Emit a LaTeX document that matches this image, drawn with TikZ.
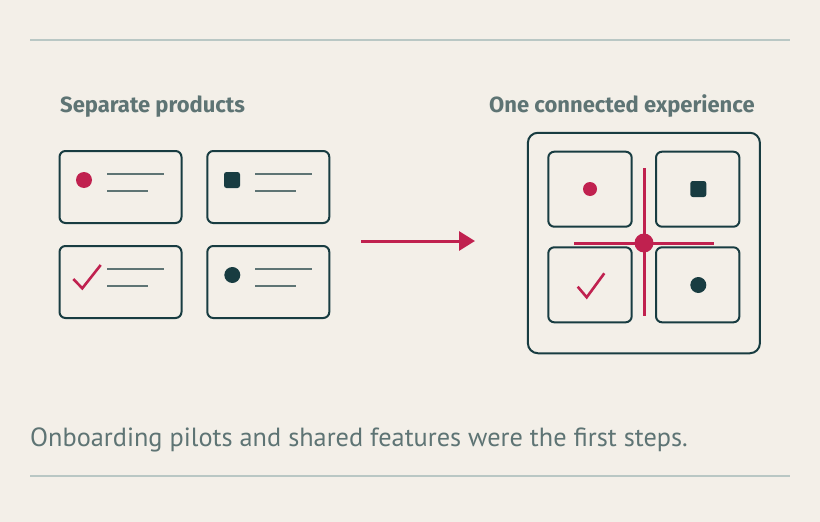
\documentclass[tikz,border=0pt]{standalone}
\usepackage{fontspec}
\setmainfont{Fira Sans}
\newfontfamily\capfont{PT Sans}
\usetikzlibrary{arrows.meta}
\definecolor{bgc}{HTML}{F3EFE8}
\definecolor{ink}{HTML}{183C41}
\definecolor{accent}{HTML}{C0214F}
\definecolor{muted}{HTML}{5E7474}
\definecolor{rulec}{HTML}{B9C7C4}
\begin{document}
\begin{tikzpicture}[x=1pt,y=-1pt,
  card/.style={draw=ink, line width=2pt, rounded corners=6pt, inner sep=0pt},
  outerbox/.style={draw=ink, line width=2pt, rounded corners=10pt, inner sep=0pt},
  dot/.style={circle, fill=#1, inner sep=0pt},
  sq/.style={fill=ink, rounded corners=2.5pt, minimum size=16pt, inner sep=0pt},
  txtline/.style={draw=muted, line width=1.5pt},
  checkmark/.style={draw=accent, line width=2.6pt, line join=miter},
  heading/.style={font=\bfseries\fontsize{22}{26}\selectfont, text=muted, inner sep=0pt, anchor=base west},
  caption/.style={font=\capfont\fontsize{26.3}{30}\selectfont, text=muted, inner sep=0pt, anchor=base west},
  ruleline/.style={draw=rulec, line width=1.3pt},
  arrowline/.style={draw=accent, line width=3pt, -{Triangle[length=16pt,width=19pt]}},
  crossline/.style={draw=accent, line width=3pt}
]
\fill[bgc] (0,0) rectangle (820,522);
\useasboundingbox (0,0) rectangle (820,522);

% rules
\coordinate (r1a) at (30,40); \coordinate (r1b) at (790,40);
\coordinate (r2a) at (30,476); \coordinate (r2b) at (790,476);
\draw[ruleline] (r1a) -- (r1b);
\draw[ruleline] (r2a) -- (r2b);

% headings
\node[heading] (h1) at (60,112) {Separate products};
\node[heading] (h2) at (489,112) {One connected experience};

% left cards
\node[card, minimum width=122pt, minimum height=72pt] (c1) at (120.5,187) {};
\node[card, minimum width=122pt, minimum height=72pt] (c2) at (268.3,187) {};
\node[card, minimum width=122pt, minimum height=72pt] (c3) at (120.5,282) {};
\node[card, minimum width=122pt, minimum height=72pt] (c4) at (268.3,282) {};

\node[dot=accent, minimum size=16pt] (d1) at (84,180) {};
\node[sq] (s2) at (232,180) {};
\node[dot=ink, minimum size=16pt] (d4) at (232.3,275) {};
\draw[checkmark] (73.3,279) -- (82.3,288.3) -- (100.7,265);

\draw[txtline] (107.3,174) -- (164.3,174);
\draw[txtline] (107.3,191) -- (148.3,191);
\draw[txtline] (255,174) -- (312.3,174);
\draw[txtline] (255,191) -- (296,191);
\draw[txtline] (107.3,269) -- (164.3,269);
\draw[txtline] (107.3,286) -- (148.3,286);
\draw[txtline] (255,269) -- (312.3,269);
\draw[txtline] (255,286) -- (296,286);

% arrow
\coordinate (as) at (361,241);
\coordinate (ae) at (475,241);
\draw[arrowline] (as) -- (ae);

% right
\node[outerbox, minimum width=232pt, minimum height=220.5pt] (ob) at (643.9,243) {};
\node[card, minimum width=83.4pt, minimum height=75pt] (i1) at (590,189.2) {};
\node[card, minimum width=83.4pt, minimum height=75pt] (i2) at (697.7,189.2) {};
\node[card, minimum width=83.4pt, minimum height=75pt] (i3) at (590,284.8) {};
\node[card, minimum width=83.4pt, minimum height=75pt] (i4) at (697.7,284.8) {};

\coordinate (vt) at (644,168); \coordinate (vb) at (644,316);
\coordinate (hl) at (574,243); \coordinate (hr) at (714,243);
\draw[crossline] (vt) -- (vb);
\draw[crossline] (hl) -- (hr);
\node[dot=accent, minimum size=19pt] (hub) at (644,243) {};

\node[dot=accent, minimum size=14pt] (e1) at (590,189) {};
\node[sq] (e2) at (698.3,189) {};
\node[dot=ink, minimum size=16pt] (e4) at (698.3,285) {};
\draw[checkmark] (577.7,286.7) -- (586.7,297.3) -- (604.3,273.3);

% caption
\node[caption] (cap) at (30,446.5) {Onboarding pilots and shared features were the first steps.};
\end{tikzpicture}
\end{document}
